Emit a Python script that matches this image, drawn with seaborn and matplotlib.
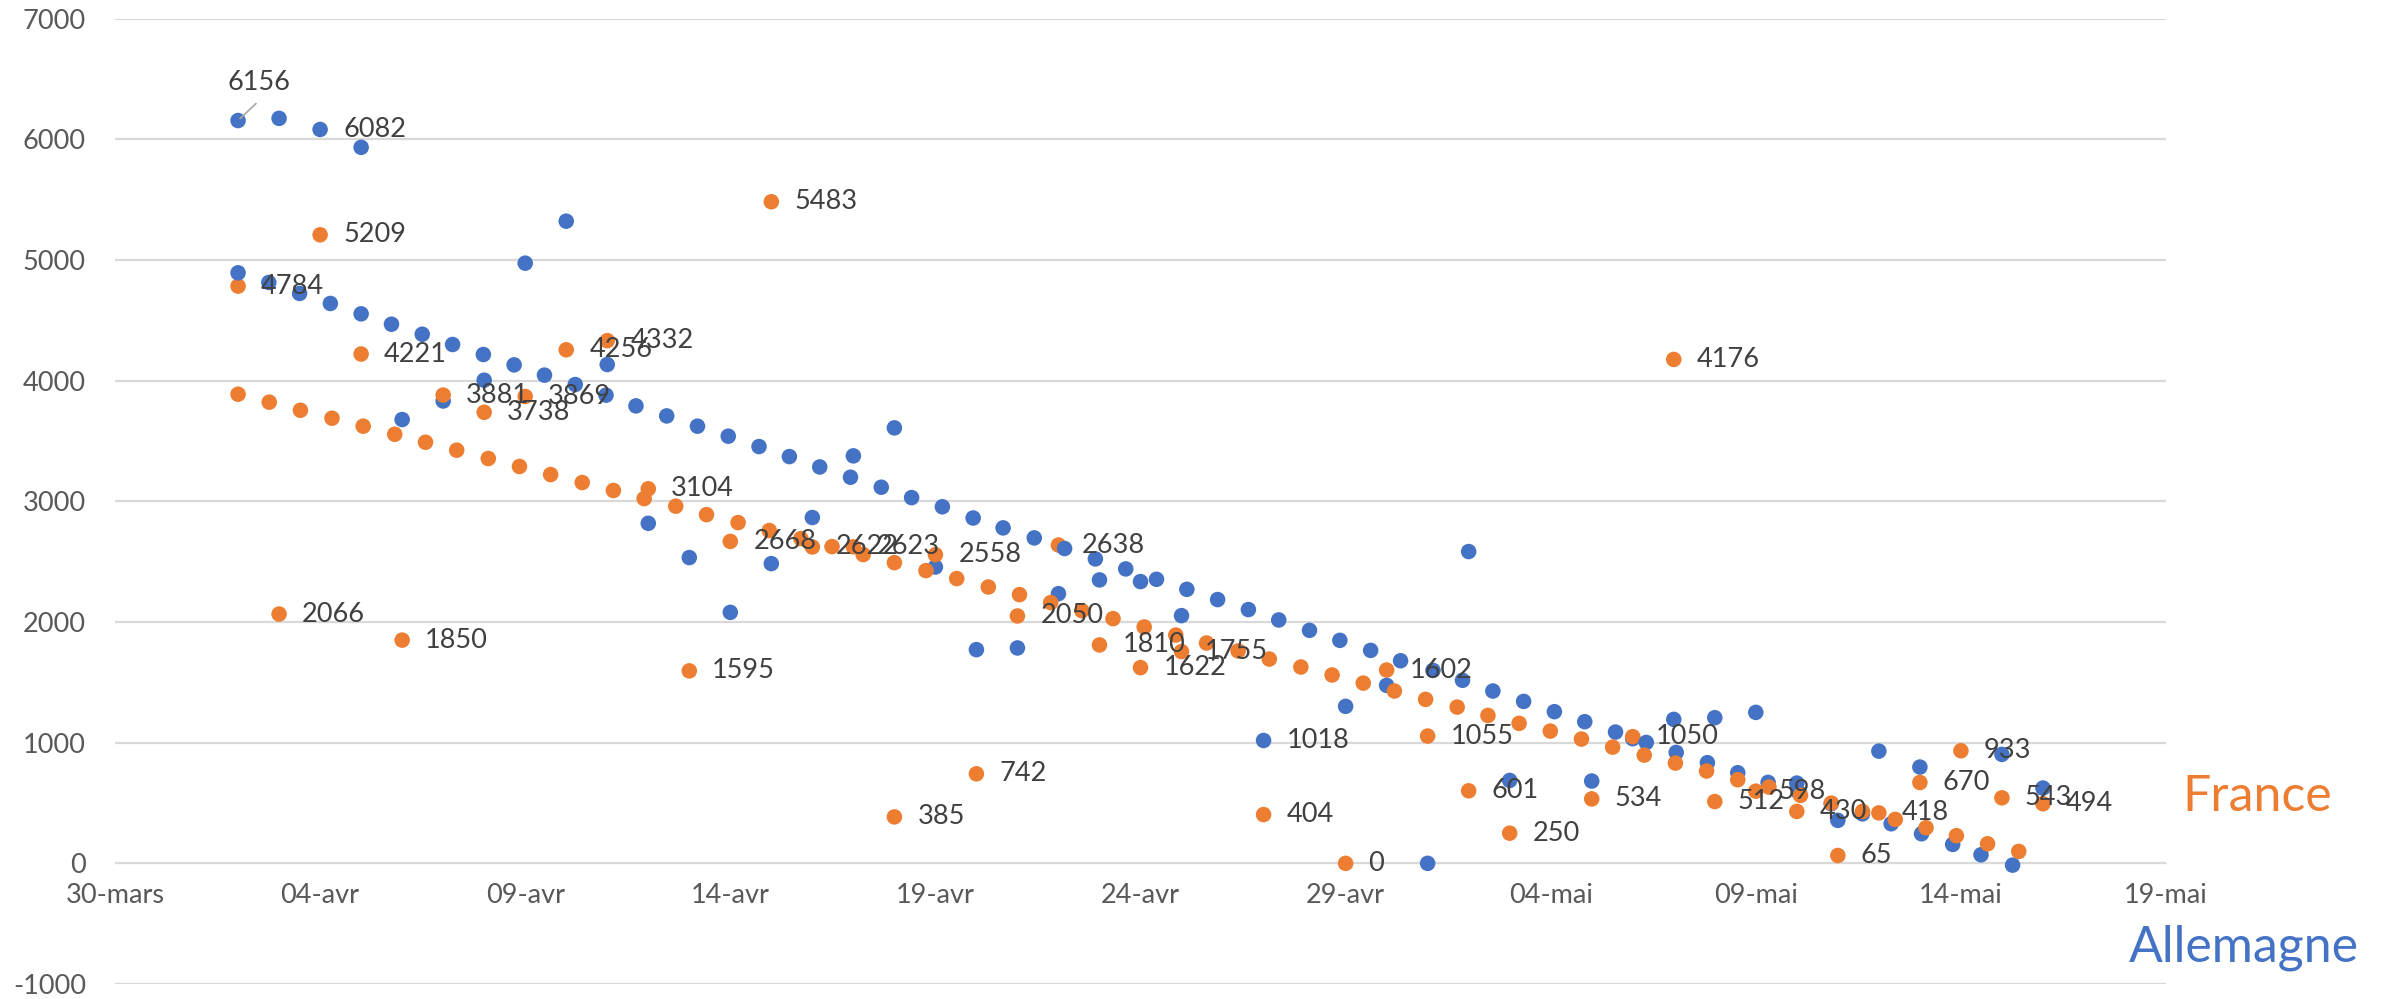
import matplotlib
matplotlib.use('Agg')
import matplotlib.pyplot as plt
import pandas as pd
import seaborn as sns

# x positions are days counted from 30 March
tick_labels = ['30-mars', '04-avr', '09-avr', '14-avr', '19-avr', '24-avr',
               '29-avr', '04-mai', '09-mai', '14-mai', '19-mai']
tick_days = [0, 5, 10, 15, 20, 25, 30, 35, 40, 45, 50]

fr_days = [3, 4, 5, 6, 7, 8, 9, 10, 11, 12, 13, 14, 15, 16, 17, 18, 19, 20, 21,
           22, 23, 24, 25, 26, 28, 30, 31, 32, 33, 34, 36, 37, 38, 39, 40, 41,
           42, 43, 44, 45, 46, 47]
fr_vals = [4784, 2066, 5209, 4221, 1850, 3881, 3738, 3869, 4256, 4332, 3104,
           1595, 2668, 5483, 2622, 2623, 385, 2558, 742, 2050, 2638, 1810, 1622,
           1755, 404, 0, 1602, 1055, 601, 250, 534, 1050, 4176, 512, 598, 430,
           65, 418, 670, 933, 543, 494]

de_days = [3, 4, 5, 6, 7, 8, 9, 10, 11, 12, 13, 14, 15, 16, 17, 18, 19, 20, 21,
           22, 23, 24, 25, 26, 28, 30, 31, 32, 33, 34, 36, 37, 38, 39, 40, 41,
           42, 43, 44, 46, 47]
de_vals = [6156, 6174, 6082, 5934, 3678, 3832, 4004, 4974, 5322, 4134, 2818,
           2534, 2080, 2484, 2866, 3377, 3609, 2456, 1771, 1785, 2235, 2349, 2335,
           2053, 1018, 1301, 1475, 0, 2584, 687, 682, 1033, 1193, 1207, 1251, 665,
           356, 930, 798, 903, 624]
de_labeled = [5, 28]

fr_trend_x = [3.0, 3.76, 4.52, 5.29, 6.05, 6.82, 7.57, 8.33, 9.10, 9.86, 10.62,
              11.39, 12.15, 12.90, 13.67, 14.42, 15.19, 15.95, 16.72, 17.48,
              18.24, 19.00, 19.77, 20.52, 21.29, 22.05, 22.81, 23.57, 24.33,
              25.09, 25.86, 26.61, 27.38, 28.14, 28.91, 29.67, 30.43, 31.19,
              31.95, 32.72, 33.47, 34.23, 34.99, 35.75, 36.51, 37.28, 38.04,
              38.80, 39.56, 40.32, 41.09, 41.84, 42.60, 43.40, 44.15, 44.89,
              45.65, 46.41]
fr_trend = [3888, 3822, 3755, 3689, 3623, 3556, 3490, 3424, 3355, 3289, 3222,
            3156, 3090, 3023, 2960, 2890, 2824, 2758, 2691, 2625, 2559, 2492,
            2426, 2360, 2290, 2227, 2161, 2094, 2028, 1959, 1892, 1826, 1760,
            1693, 1627, 1561, 1494, 1428, 1359, 1295, 1226, 1160, 1096, 1030,
            963, 897, 831, 765, 693, 632, 563, 499, 430, 364, 295, 229, 162, 99]

de_trend_x = [3.0, 3.75, 4.50, 5.25, 6.00, 6.74, 7.49, 8.23, 8.98, 9.73, 10.47,
              11.22, 11.97, 12.70, 13.45, 14.20, 14.95, 15.70, 16.44, 17.18,
              17.93, 18.68, 19.42, 20.17, 20.92, 21.65, 22.41, 23.15, 23.90,
              24.64, 25.39, 26.13, 26.88, 27.63, 28.37, 29.12, 29.86, 30.61,
              31.34, 32.13, 32.85, 33.59, 34.34, 35.09, 35.83, 36.58, 37.33,
              38.06, 38.82, 39.56, 40.30, 41.05, 41.84, 42.60, 43.30, 44.04,
              44.80, 45.49, 46.26]
de_trend = [4894, 4814, 4723, 4640, 4554, 4468, 4385, 4300, 4217, 4131, 4046,
            3968, 3880, 3791, 3708, 3623, 3540, 3454, 3371, 3285, 3200, 3117,
            3031, 2955, 2862, 2780, 2697, 2609, 2523, 2440, 2354, 2271, 2186,
            2103, 2017, 1931, 1848, 1765, 1679, 1599, 1517, 1428, 1342, 1257,
            1174, 1088, 1002, 919, 834, 751, 671, 585, 494, 410, 328, 245, 157,
            71, -15]

ORANGE = '#ED7D31'
BLUE = '#4472C4'
LABEL = '#404040'
TICK = '#595959'

# drawing order follows the original: blue daily, orange daily, blue trend, orange trend
df = pd.concat([
    pd.DataFrame({'x': de_days, 'y': de_vals, 'pays': 'Allemagne'}),
    pd.DataFrame({'x': fr_days, 'y': fr_vals, 'pays': 'France'}),
    pd.DataFrame({'x': de_trend_x, 'y': de_trend, 'pays': 'Allemagne'}),
    pd.DataFrame({'x': fr_trend_x, 'y': fr_trend, 'pays': 'France'}),
], ignore_index=True)

sns.set_style('white')
plt.rcParams['font.family'] = ['Lato', 'DejaVu Sans']
plt.rcParams['axes.unicode_minus'] = False

W, H = 2384, 999
fig = plt.figure(figsize=(W / 100, H / 100), dpi=100)
ax = fig.add_axes([115 / W, 1 - 984 / H, (2166 - 115) / W, (984 - 18.7) / H])

sns.scatterplot(data=df, x='x', y='y', hue='pays',
                palette={'France': ORANGE, 'Allemagne': BLUE},
                s=125, linewidth=0, legend=False, ax=ax, zorder=3)

ax.set_xlim(0, 50)
ax.set_ylim(-1000, 7000)
ax.set_yticks(range(-1000, 7001, 1000))
ax.set_xticks(tick_days)
ax.set_xticklabels(tick_labels)
ax.grid(axis='y', color='#D9D9D9', linewidth=1.6)
ax.grid(axis='x', visible=False)
ax.set_axisbelow(True)
for side in ['top', 'right', 'left']:
    ax.spines[side].set_visible(False)
ax.spines['bottom'].set_position(('data', 0))
ax.spines['bottom'].set_color('#D9D9D9')
ax.tick_params(axis='y', length=0, pad=21, labelsize=19.5, labelcolor=TICK)
ax.tick_params(axis='x', length=0, pad=14, labelsize=19.5, labelcolor=TICK)
ax.set_xlabel('')
ax.set_ylabel('')

# data labels to the right of points
for d, v in zip(fr_days, fr_vals):
    ax.annotate(str(v), (d, v), xytext=(23, 0), textcoords='offset pixels',
                va='center', ha='left', fontsize=19.5, color=LABEL, zorder=5)
for d, v in zip(de_days, de_vals):
    if d in de_labeled:
        ax.annotate(str(v), (d, v), xytext=(23, 0), textcoords='offset pixels',
                    va='center', ha='left', fontsize=19.5, color=LABEL, zorder=5)

# first German value carries a moved label with a leader line
ax.annotate(str(de_vals[0]), (de_days[0], de_vals[0]), xytext=(21, 38),
            textcoords='offset pixels', va='center', ha='center',
            fontsize=19.5, color=LABEL, zorder=5)
ax.annotate('', (de_days[0], de_vals[0]), xytext=(20, 19),
            textcoords='offset pixels',
            arrowprops=dict(arrowstyle='-', color='#A6A6A6', lw=1.2), zorder=4)

fig.text(2182 / W, 1 - 797 / H, 'France', color=ORANGE, fontsize=36,
         ha='left', va='center')
fig.text(2129 / W, 1 - 948 / H, 'Allemagne', color=BLUE, fontsize=36,
         ha='left', va='center')

fig.savefig('out.png', dpi=100)
